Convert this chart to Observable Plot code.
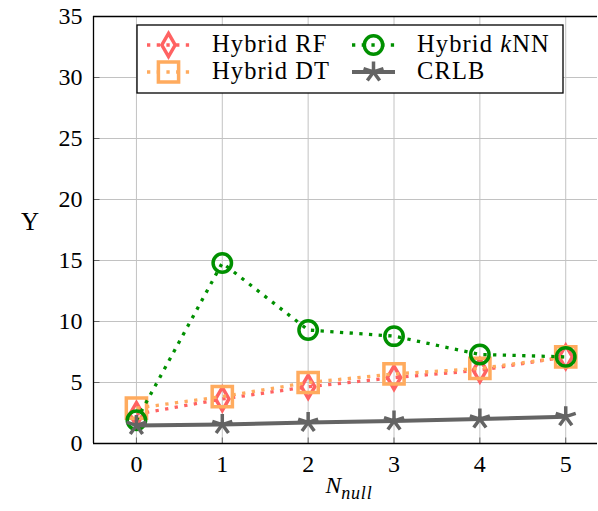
<!DOCTYPE html>
<html><head><meta charset="utf-8">
<script src="https://cdn.jsdelivr.net/npm/d3@7"></script>
<script src="https://cdn.jsdelivr.net/npm/@observablehq/plot@0.6"></script>
<style>
html,body{margin:0;padding:0;background:#fff;overflow:hidden;}
#chart{position:relative;width:598px;height:511px;}
</style></head><body><div id="chart"></div>
<script>
// ---- data ----
const nNull = [0, 1, 2, 3, 4, 5];
const hybridRF  = [2.4, 3.65, 4.65, 5.4, 6.0, 7.1];
const hybridDT  = [2.9, 3.85, 5.0, 5.7, 6.15, 7.1];
const hybridKNN = [1.9, 14.8, 9.3, 8.8, 7.3, 7.1];
const crlb      = [1.48, 1.55, 1.72, 1.85, 2.0, 2.2];
const seriesNames = ["Hybrid RF", "Hybrid DT", "Hybrid kNN", "CRLB"];
const xTicks = [0, 1, 2, 3, 4, 5];
const yTicks = [0, 5, 10, 15, 20, 25, 30, 35];
const xDomain = [-0.5, 5.37];
const yDomain = [0, 35];
const FONT = "Liberation Serif";

// ---- symbols ----
const star5 = {draw(ctx, size) {
  const r = Math.sqrt(size / Math.PI);
  for (let i = 0; i < 5; i++) {
    const a = -Math.PI / 2 + i * 2 * Math.PI / 5;
    ctx.moveTo(0, 0); ctx.lineTo(r * Math.cos(a), r * Math.sin(a));
  }
}};
const tickUp = {draw(ctx) { ctx.moveTo(0, 0); ctx.lineTo(0, -6); }};
const tickRight = {draw(ctx) { ctx.moveTo(0, 0); ctx.lineTo(6, 0); }};

const dotted = "3.3,6.4";
const styles = [
  {color: "#ff6262", dash: dotted, sw: 3.3, symbol: "diamond", r: 7},
  {color: "#ffab5e", dash: dotted, sw: 3.3, symbol: "square", r: 11.4},
  {color: "#009000", dash: dotted, sw: 3.3, symbol: "circle", r: 9.2},
  {color: "#646464", dash: null,   sw: 4,   symbol: star5,    r: 10.5}
];
const valuesList = [hybridRF, hybridDT, hybridKNN, crlb];

const seriesData = seriesNames.map((name, s) =>
  nNull.map((n, i) => ({series: name, n, v: valuesList[s][i]})));

const marks = [
  Plot.gridX(xTicks, {stroke: "#c2c2c2", strokeOpacity: 1, strokeWidth: 1}),
  Plot.gridY(yTicks, {stroke: "#c2c2c2", strokeOpacity: 1, strokeWidth: 1}),
  Plot.dot(xTicks, {x: d => d, y: () => yDomain[0], symbol: tickUp, stroke: "#666", strokeWidth: 1, fill: "none"}),
  Plot.dot(yTicks, {y: d => d, x: () => xDomain[0], symbol: tickRight, stroke: "#666", strokeWidth: 1, fill: "none"}),
  Plot.axisX(xTicks, {tickSize: 0, tickPadding: 11, label: null}),
  Plot.axisY(yTicks, {tickSize: 0, tickPadding: 11, label: null})
];
seriesData.forEach((d, s) => {
  const st = styles[s];
  marks.push(Plot.line(d, {x: "n", y: "v", stroke: st.color, strokeWidth: st.sw,
    strokeDasharray: st.dash, strokeLinecap: "butt"}));
  marks.push(Plot.dot(d, {x: "n", y: "v", stroke: st.color, strokeWidth: 3.5,
    fill: "none", symbol: st.symbol, r: st.r}));
});
marks.push(Plot.ruleY(yDomain, {stroke: "#000", strokeWidth: 1.3}));
marks.push(Plot.ruleX([xDomain[0]], {stroke: "#000", strokeWidth: 1.3}));

const plot = Plot.plot({
  width: 598, height: 511,
  marginLeft: 93, marginRight: 1, marginTop: 16, marginBottom: 68,
  x: {type: "linear", domain: xDomain},
  y: {type: "linear", domain: yDomain},
  style: {fontSize: "24px", color: "#000", background: "#fff", overflow: "visible"},
  marks
});
document.getElementById("chart").appendChild(plot);

// ---- labels & legend ----
const svg = d3.select(plot);
svg.append("text").attr("x", 30).attr("y", 230).attr("text-anchor", "middle")
  .attr("font-size", 25).text("Υ");
const xl = svg.append("text").attr("x", 349).attr("y", 493).attr("text-anchor", "middle")
  .attr("font-style", "italic").attr("font-size", 23.5);
xl.append("tspan").text("N");
xl.append("tspan").attr("dy", 6).attr("font-size", 18).attr("letter-spacing", 0.8).text("null");

const lg = svg.append("g").attr("text-anchor", "start");
lg.append("rect").attr("x", 137).attr("y", 25).attr("width", 426).attr("height", 68)
  .attr("fill", "#fff").attr("stroke", "#000").attr("stroke-width", 1.3);
const pos = [[147, 45], [147, 72], [352, 45], [352, 72]];
seriesNames.forEach((name, s) => {
  const st = styles[s];
  const [x0, yc] = pos[s];
  lg.append("line").attr("x1", x0).attr("x2", x0 + 43).attr("y1", yc).attr("y2", yc)
    .attr("stroke", st.color).attr("stroke-width", st.sw)
    .attr("stroke-dasharray", st.dash);
  const sym = typeof st.symbol === "string"
    ? {diamond: d3.symbolDiamond, square: d3.symbolSquare, circle: d3.symbolCircle}[st.symbol]
    : st.symbol;
  lg.append("path").attr("transform", `translate(${x0 + 21.5},${yc})`)
    .attr("d", d3.symbol(sym, Math.PI * st.r * st.r)())
    .attr("fill", "none").attr("stroke", st.color).attr("stroke-width", 3.5);
  const t = lg.append("text").attr("x", x0 + 65).attr("y", yc + 7.3)
    .attr("text-anchor", "start").attr("font-size", 24.5).attr("letter-spacing", 1.1);
  if (name === "Hybrid kNN") {
    t.append("tspan").text("Hybrid ");
    t.append("tspan").attr("font-style", "italic").text("k");
    t.append("tspan").text("NN");
  } else t.text(name);
});
svg.attr("font-family", FONT);
svg.selectAll("g").attr("font-family", null);
svg.selectAll("text").attr("font-family", FONT);
</script></body></html>
